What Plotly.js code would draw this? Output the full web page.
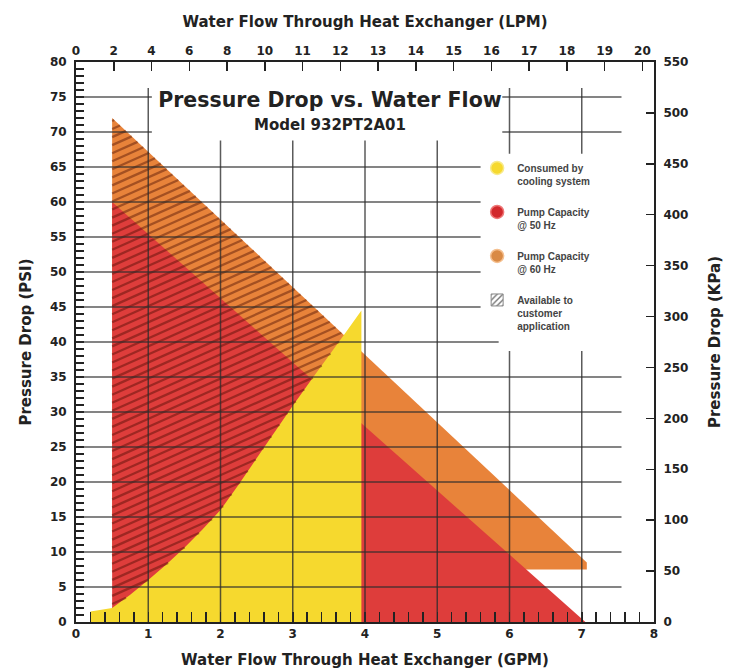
<!DOCTYPE html>
<html><head><meta charset="utf-8">
<script src="https://cdn.plot.ly/plotly-3.0.1.min.js"></script>
<style>html,body{margin:0;padding:0;background:#fff}#chart{width:730px;height:672px}</style>
</head><body><div id="chart"></div>
<script>
// ---- data (flow in GPM, pressure in PSI) ----
const consumedGpm = [0.2, 0.2, 0.5, 0.75, 1, 1.25, 1.5, 1.75, 2, 2.25, 2.5, 2.75, 3, 3.25, 3.5, 3.75, 3.95, 3.95];
const consumedPsi = [0, 1.5, 2, 3.9, 6, 8.2, 10.6, 13.2, 16, 19.6, 23.4, 27.2, 30.9, 34.5, 38, 41.6, 44.5, 0];
const pump50Gpm = [0.5, 0.5, 7.05];
const pump50Psi = [0, 60, 0];
const pump60Gpm = [0.5, 0.5, 7.07, 7.07];
const pump60Psi = [7.5, 72, 8.5, 7.5];
const gpmTicks = [0, 1, 2, 3, 4, 5, 6, 7, 8];
const lpmLabels = ['0','2','4','6','8','10','11','12','13','14','15','16','17','18','19','20'];
const kpaTicks = [0, 50, 100, 150, 200, 250, 300, 350, 400, 450, 500, 550];
const gridPsi = [5,10,15,20,25,30,35,40,45,50,55,60,65,70,75];
const gridGpm = [1,2,3,4,5,6,7];
const legendNames = ['Consumed by<br>cooling system', 'Pump Capacity<br>@ 50 Hz', 'Pump Capacity<br>@ 60 Hz', 'Available to<br>customer<br>application'];

const YELLOW = '#F6D92E', RED = '#DE3D3B', ORANGE = '#E8833A';
const FONT = 'Liberation Sans, Arial, Helvetica, sans-serif';
const WIDE = 'DejaVu Sans, Verdana, sans-serif';
const INK = '#222';

// ---- hatch ("available to customer") computed from the curves ----
function interp(xs, ys, x) {
  for (let i = 0; i < xs.length - 1; i++) {
    if (x >= xs[i] && x <= xs[i + 1] && xs[i + 1] > xs[i]) {
      const t = (x - xs[i]) / (xs[i + 1] - xs[i]);
      return ys[i] + t * (ys[i + 1] - ys[i]);
    }
  }
  return NaN;
}
const curveX = consumedGpm.slice(2, 17), curveY = consumedPsi.slice(2, 17);
const topX = pump60Gpm.slice(1, 3), topY = pump60Psi.slice(1, 3);
const hatchX = [], hatchY = [];
const slope = 4.6, step = 1.15;
for (let c = curveY[0] + step * 0.5; c < topY[0]; c += step) {
  const line = x => c + slope * (x - curveX[0]);
  const ok = x => (line(x) < interp(topX, topY, x)) && (line(x) > interp(curveX, curveY, x));
  let x = curveX[0], dx = 0.004;
  while (x + dx <= curveX[curveX.length - 1] && ok(x + dx)) x += dx;
  let lo = x, hi = Math.min(x + dx, curveX[curveX.length - 1]);
  for (let k = 0; k < 20; k++) { const m = (lo + hi) / 2; if (ok(m)) lo = m; else hi = m; }
  hatchX.push(curveX[0], lo, null);
  hatchY.push(line(curveX[0]), line(lo), null);
}

const traces = [
  {x: pump60Gpm, y: pump60Psi, type: 'scatter', mode: 'lines', fill: 'toself', fillcolor: ORANGE, line: {width: 0, color: ORANGE}, showlegend: false, hoverinfo: 'skip'},
  {x: pump50Gpm, y: pump50Psi, type: 'scatter', mode: 'lines', fill: 'toself', fillcolor: RED, line: {width: 0, color: RED}, showlegend: false, hoverinfo: 'skip'},
  {x: consumedGpm, y: consumedPsi, type: 'scatter', mode: 'lines', fill: 'toself', fillcolor: YELLOW, line: {width: 0, color: YELLOW}, showlegend: false, hoverinfo: 'skip'},
  {x: hatchX, y: hatchY, type: 'scatter', mode: 'lines', line: {width: 2.3, color: 'rgba(70,10,0,0.42)'}, showlegend: false, hoverinfo: 'skip'},
  // legend entries
  {x: [null], y: [null], type: 'scatter', mode: 'markers', name: legendNames[0], legendgroup: 'a', marker: {size: 13, color: YELLOW, line: {color: '#F8EA8A', width: 1.5}}},
  {x: [null], y: [null], type: 'scatter', mode: 'markers', name: legendNames[1], legendgroup: 'b', marker: {size: 13, color: '#D2282C', line: {color: '#E77', width: 1.5}}},
  {x: [null], y: [null], type: 'scatter', mode: 'markers', name: legendNames[2], legendgroup: 'c', marker: {size: 13, color: '#D98A45', line: {color: '#F5C090', width: 1.5}}},
  {x: [null], y: [null], type: 'bar', name: legendNames[3], legendgroup: 'd', marker: {color: '#fff', line: {color: '#888', width: 1}, pattern: {shape: '/', fgcolor: '#777', bgcolor: '#fff', size: 5, solidity: 0.35}}},
  // secondary axes anchor
  {x: [null], y: [null], type: 'scatter', mode: 'markers', xaxis: 'x2', yaxis: 'y2', showlegend: false, hoverinfo: 'skip'}
];

const gridColor = 'rgba(45,45,45,0.78)';
const shapes = [];
gridPsi.forEach(p => shapes.push({type: 'line', xref: 'x', yref: 'y', x0: 0, x1: 7.55, y0: p, y1: p, layer: 'above', line: {color: gridColor, width: 1.5}}));
gridGpm.forEach(g => shapes.push({type: 'line', xref: 'x', yref: 'y', x0: g, x1: g, y0: 0, y1: 76.3, layer: 'above', line: {color: gridColor, width: 1.5}}));
// blank boxes behind title and legend
[[1.05, 5.9, 68.8, 78.6], [5.6, 7.7, 41.5, 66.9], [5.85, 7.7, 38.7, 41.6]].forEach(b =>
  shapes.push({type: 'rect', xref: 'x', yref: 'y', x0: b[0], x1: b[1], y0: b[2], y1: b[3], layer: 'above', fillcolor: '#fff', line: {width: 0}}));

const tickFont = {family: WIDE, size: 12, color: INK, weight: 'bold'};
const titleFont = {family: WIDE, size: 15, color: INK, weight: 'bold'};
const lpmPos = lpmLabels.map((_, i) => i * 7.84 / 15);

const layout = {
  width: 730, height: 672,
  margin: {l: 76, r: 76, t: 62, b: 50},
  paper_bgcolor: '#fff', plot_bgcolor: '#fff',
  showlegend: true,
  title: {text: 'Pressure Drop vs. Water Flow', font: {family: WIDE, size: 20.5, color: INK, weight: 'bold'}, x: 0.452, xanchor: 'center', y: 0.851, yanchor: 'middle', xref: 'container', yref: 'container'},
  xaxis: {range: [0, 8], tickmode: 'linear', tick0: 0, dtick: 1, ticks: 'inside', ticklen: 10, tickwidth: 1.5, tickcolor: INK,
    minor: {dtick: 0.2, tick0: 0, ticks: 'inside', ticklen: 10, tickwidth: 1.5, tickcolor: INK},
    showline: true, linewidth: 2, linecolor: INK, showgrid: false, zeroline: false, tickfont: tickFont,
    title: {text: 'Water Flow Through Heat Exchanger (GPM)', font: titleFont, standoff: 14}},
  xaxis2: {range: [0, 8], overlaying: 'x', side: 'top', anchor: 'y', tickmode: 'array', tickvals: lpmPos, ticktext: lpmLabels,
    ticks: 'inside', ticklen: 9, tickwidth: 1.5, tickcolor: INK, showline: true, linewidth: 2, linecolor: INK, showgrid: false, zeroline: false, tickfont: tickFont,
    title: {text: 'Water Flow Through Heat Exchanger (LPM)', font: titleFont, standoff: 13}},
  yaxis: {range: [0, 80], tickmode: 'linear', tick0: 0, dtick: 5, ticks: 'inside', ticklen: 8, tickwidth: 1.5, tickcolor: INK,
    minor: {dtick: 1, tick0: 0, ticks: 'inside', ticklen: 8, tickwidth: 1.2, tickcolor: INK},
    showline: true, linewidth: 2, linecolor: INK, showgrid: false, zeroline: false, tickfont: tickFont, ticklabelstandoff: 5,
    title: {text: 'Pressure Drop (PSI)', font: titleFont, standoff: 15}},
  yaxis2: {range: [0, 550], overlaying: 'y', side: 'right', anchor: 'x', tickmode: 'array', tickvals: kpaTicks,
    ticks: 'inside', ticklen: 8, tickwidth: 1.5, tickcolor: INK, showline: true, linewidth: 2, linecolor: INK, showgrid: false, zeroline: false, tickfont: tickFont, ticklabelstandoff: 5,
    title: {text: 'Pressure Drop (KPa)', font: titleFont, standoff: 22}},
  legend: {x: 0.694, xanchor: 'left', y: 0.834, yanchor: 'top', bgcolor: 'rgba(0,0,0,0)', traceorder: 'grouped', tracegroupgap: 15, valign: 'top',
    font: {family: FONT, size: 10, color: '#444', weight: 'bold'}, itemclick: false, itemdoubleclick: false},
  shapes: shapes,
  annotations: [
    {text: 'Model 932PT2A01', xref: 'paper', yref: 'paper', x: 0.439, y: 0.8875, xanchor: 'center', yanchor: 'middle', showarrow: false,
     font: {family: WIDE, size: 15, color: INK, weight: 'bold'}}
  ]
};

Plotly.newPlot('chart', traces, layout, {staticPlot: true, displayModeBar: false});
</script>
</body></html>
